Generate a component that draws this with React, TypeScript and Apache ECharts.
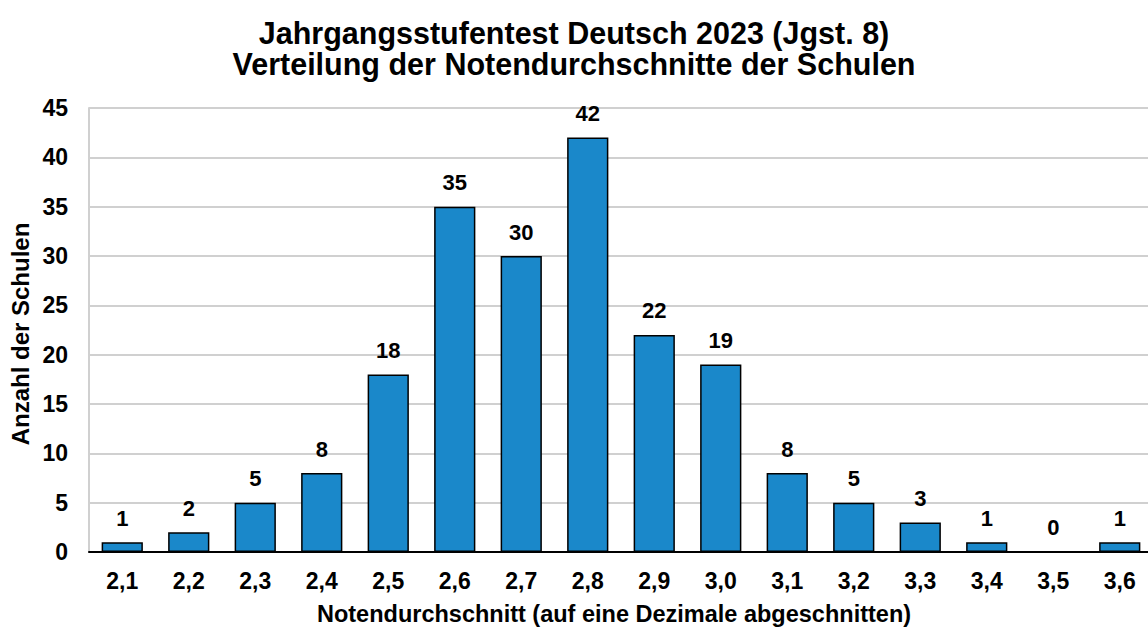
import React, { useEffect, useRef } from "react";
import * as echarts from "echarts";

const categories = ["2,1", "2,2", "2,3", "2,4", "2,5", "2,6", "2,7", "2,8", "2,9", "3,0", "3,1", "3,2", "3,3", "3,4", "3,5", "3,6"];
const values = [1, 2, 5, 8, 18, 35, 30, 42, 22, 19, 8, 5, 3, 1, 0, 1];
const titleLines = ["Jahrgangsstufentest Deutsch 2023 (Jgst. 8)", "Verteilung der Notendurchschnitte der Schulen"];
const yName = "Anzahl der Schulen";
const xName = "Notendurchschnitt (auf eine Dezimale abgeschnitten)";

const FONT = "Liberation Sans, Arial, sans-serif";

export default function App() {
  const ref = useRef<HTMLDivElement>(null);
  useEffect(() => {
    if (!ref.current) return;
    const chart = echarts.init(ref.current, null, { renderer: "svg" });
    chart.setOption({
      animation: false,
      backgroundColor: "#ffffff",
      textStyle: { fontFamily: FONT },
      title: {
        text: titleLines.join("\n"),
        left: "center",
        top: 12,
        textStyle: { fontFamily: FONT, fontWeight: "bold", fontSize: 30.5, lineHeight: 31, color: "#000" },
      },
      graphic: [
        {
          type: "text",
          x: 614,
          y: 614,
          style: {
            text: xName,
            fontFamily: FONT,
            fontWeight: "bold",
            fontSize: 23.5,
            fill: "#000",
            textAlign: "center",
            textVerticalAlign: "middle",
          },
        },
        {
          type: "text",
          x: 20,
          y: 334,
          rotation: Math.PI / 2,
          style: {
            text: yName,
            fontFamily: FONT,
            fontWeight: "bold",
            fontSize: 24,
            fill: "#000",
            textAlign: "center",
            textVerticalAlign: "middle",
          },
        },
      ],
      grid: { left: 89, top: 108, width: 1064, height: 444, outerBoundsMode: "none", containLabel: false },
      xAxis: {
        type: "category",
        data: categories,
        axisLine: { lineStyle: { color: "#000", width: 2 } },
        axisTick: { show: false },
        axisLabel: { fontFamily: FONT, fontWeight: "bold", fontSize: 23, color: "#000", margin: 17 },
      },
      yAxis: {
        type: "value",
        min: 0,
        max: 45,
        interval: 5,
        axisLine: { show: true, lineStyle: { color: "#d0d0d0", width: 2 } },
        axisTick: { show: false },
        axisLabel: { fontFamily: FONT, fontWeight: "bold", fontSize: 23, color: "#000", margin: 21 },
        splitLine: { lineStyle: { color: "#d0d0d0", width: 2 } },
      },
      series: [
        {
          type: "bar",
          data: values,
          barCategoryGap: "38%",
          itemStyle: { color: "#1A88CA", borderColor: "#000", borderWidth: 1.5 },
          label: {
            show: true,
            position: "top",
            distance: 13,
            fontFamily: FONT,
            fontWeight: "bold",
            fontSize: 22,
            color: "#000",
          },
        },
      ],
    });
    return () => chart.dispose();
  }, []);
  return <div ref={ref} style={{ position: "fixed", left: 0, top: 0, width: 1148, height: 630 }} />;
}
